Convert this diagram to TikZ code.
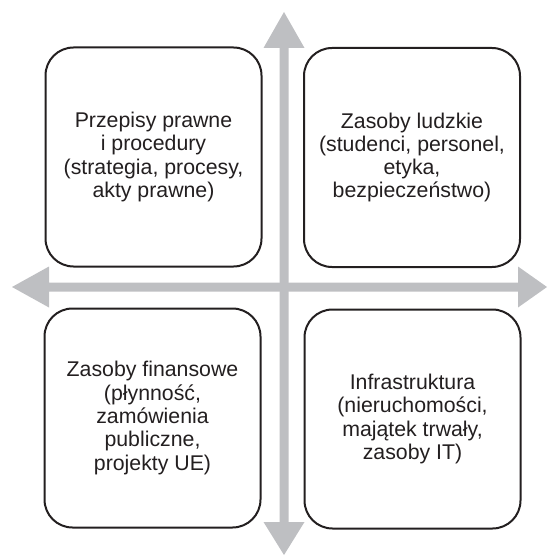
\documentclass[tikz,border=0pt]{standalone}
\usepackage{fontspec}
\setmainfont{Liberation Sans}
\definecolor{arrowgray}{RGB}{190,191,194}
\definecolor{ink}{RGB}{35,31,32}
\begin{document}
\begin{tikzpicture}[x=1pt,y=-1pt,
  quadbox/.style={draw=ink,line width=2pt,fill=white,rounded corners=28pt,
    minimum width=216pt,minimum height=219pt,inner sep=0pt,
    align=center,text=ink,font=\fontsize{21.3}{23.3}\selectfont},
  axis/.style={fill=arrowgray}]
\useasboundingbox (0,0) rectangle (547,556);
% vertical double arrow
\fill[axis] (284,12) -- (304.5,48) -- (288.5,48) -- (288.5,522) -- (304.5,522)
  -- (284,555) -- (263.5,522) -- (279.5,522) -- (279.5,48) -- (263.5,48) -- cycle;
% horizontal double arrow
\fill[axis] (12,287) -- (49,266.5) -- (49,282.5) -- (518,282.5) -- (518,266.5)
  -- (547,287) -- (518,307.5) -- (518,291.5) -- (49,291.5) -- (49,307.5) -- cycle;
\node[quadbox] (tl) at (153.5,157) {Przepisy prawne\\i procedury\\(strategia, procesy,\\akty prawne)};
\node[quadbox] (tr) at (412,157.5) {Zasoby ludzkie\\(studenci, personel,\\etyka,\\bezpieczeństwo)};
\node[quadbox] (bl) at (152.5,418) {Zasoby finansowe\\(płynność,\\zamówienia\\publiczne,\\projekty UE)};
\node[quadbox] (br) at (412.5,419) {Infrastruktura\\(nieruchomości,\\majątek trwały,\\zasoby IT)};
\end{tikzpicture}
\end{document}
